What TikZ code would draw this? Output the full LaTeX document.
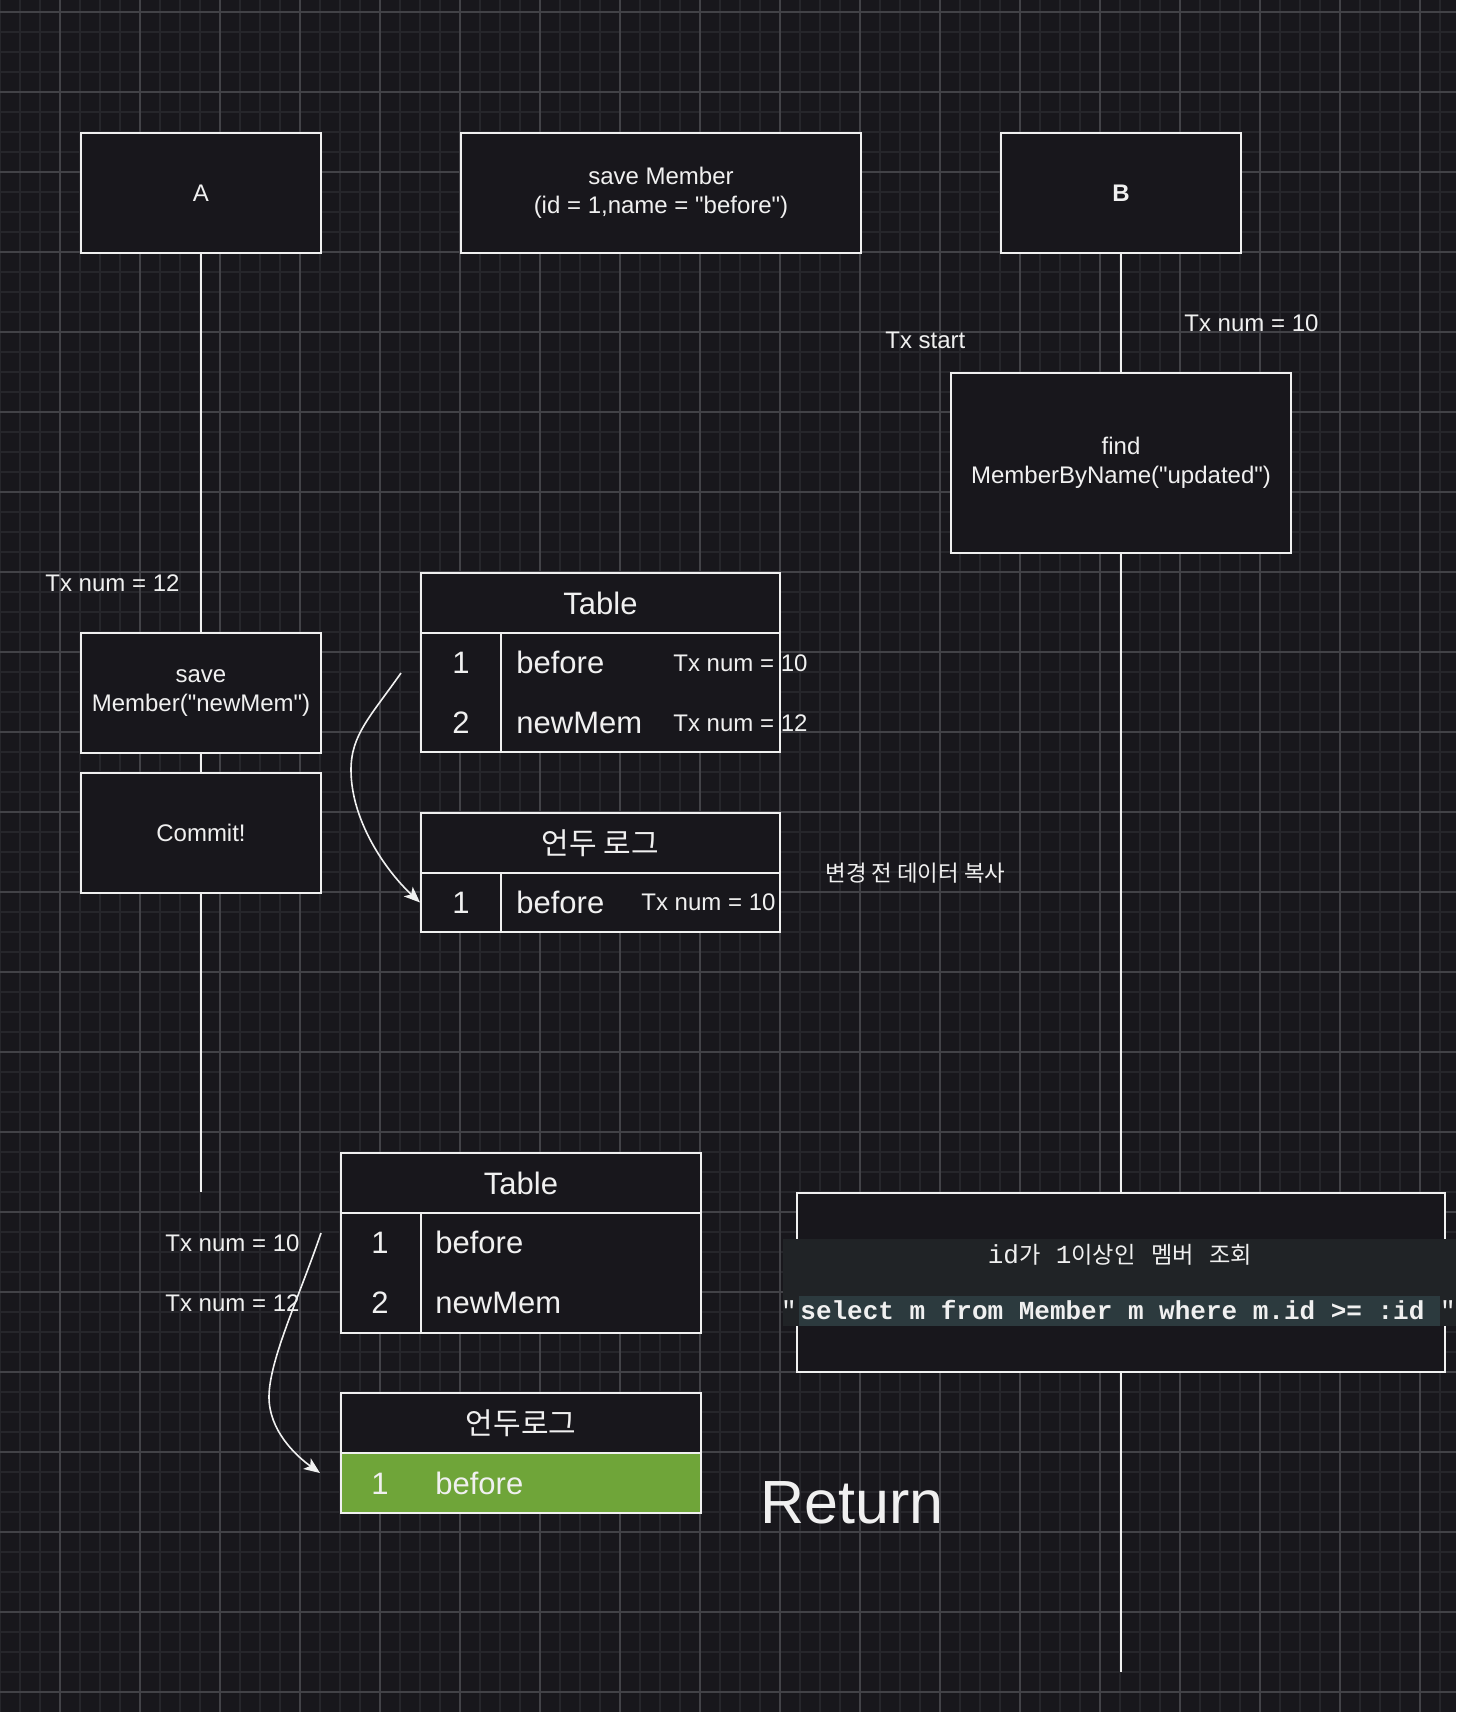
\documentclass[tikz,border=0pt]{standalone}
\usepackage{fontspec}
\setmainfont{Liberation Sans}[Ligatures=TeXOff]
\newfontfamily\krfont{Noto Sans CJK KR}
\newfontfamily\codefont{Liberation Mono}
\usepackage{xcolor}
\usetikzlibrary{arrows.meta}
\definecolor{bgdark}{HTML}{18171C}
\definecolor{gridminor}{HTML}{26262B}
\definecolor{gridmajor}{HTML}{424247}
\definecolor{fgwhite}{HTML}{F0F0F0}
\definecolor{rowgreen}{HTML}{6FA539}
\definecolor{bandgray}{HTML}{202326}
\definecolor{codegray}{HTML}{2C3A3E}
\newcommand{\krtext}[1]{{\krfont\fontsize{11.6}{13}\selectfont #1}}
\newcommand{\dq}{\symbol{34}}

\begin{document}
\begin{tikzpicture}[x=0.5pt, y=-0.5pt,
  every node/.style={text=fgwhite, inner sep=0pt},
  lifebox/.style={draw=fgwhite, line width=1pt, fill=bgdark, align=center, font=\fontsize{12}{14.5}\selectfont},
  cell/.style={draw=fgwhite, line width=1pt, fill=bgdark},
  celltext/.style={font=\fontsize{15.5}{18}\selectfont},
  krhead/.style={font=\krfont\fontsize{15}{17}\selectfont},
  txlabel/.style={font=\fontsize{12}{14}\selectfont, anchor=base west},
  lifeline/.style={draw=fgwhite, line width=1pt},
  copyarrow/.style={draw=fgwhite, line width=0.8pt, -{Stealth[length=8pt,width=6.5pt,inset=2pt]}}]
\useasboundingbox (0,0) rectangle (1456,1712);
% background grid
\fill[bgdark] (0,0) rectangle (1456,1712);
\foreach \gx in {0,20,...,1440} \draw[gridminor, line width=0.6pt] (\gx,0) -- (\gx,1712);
\foreach \gy in {12,32,...,1692} \draw[gridminor, line width=0.6pt] (0,\gy) -- (1456,\gy);
\foreach \gx in {60,140,...,1420} \draw[gridmajor, line width=0.6pt] (\gx,0) -- (\gx,1712);
\foreach \gy in {12,92,...,1692} \draw[gridmajor, line width=0.6pt] (0,\gy) -- (1456,\gy);

% Transaction A
\node[lifebox, minimum width=120pt, minimum height=60pt] (A) at (201,193) {A};
\node[lifebox, minimum width=120pt, minimum height=60pt] (saveNew) at (201,693) {save\\Member(\dq newMem\dq)};
\node[lifebox, minimum width=120pt, minimum height=60pt] (commit) at (201,833) {Commit!};
\coordinate (Aend) at (201,1192);
\draw[lifeline] (A) -- (saveNew);
\draw[lifeline] (saveNew) -- (commit);
\draw[lifeline] (commit) -- (Aend);
\node[txlabel] (txA) at (45,591) {Tx num = 12};

% first member
\node[lifebox, minimum width=200pt, minimum height=60pt] (saveFirst) at (661,193) {save Member\\(id = 1,name = \dq before\dq)};

% Transaction B
\node[lifebox, minimum width=120pt, minimum height=60pt, font=\fontsize{12}{14.5}\selectfont\bfseries] (B) at (1121,193) {B};
\node[lifebox, minimum width=170pt, minimum height=90pt] (find) at (1121,462.5) {find\\MemberByName(\dq updated\dq)};
\node[lifebox, minimum width=324pt, minimum height=89.5pt] (query) at (1121,1282.5) {};
\coordinate (Bend) at (1121,1672);
\draw[lifeline] (B) -- (find);
\draw[lifeline] (find) -- (query);
\draw[lifeline] (query) -- (Bend);
\node[txlabel] (txStart) at (885,348) {Tx start};
\node[txlabel] (txB) at (1184,331) {Tx num = 10};

% query
\node[fill=bandgray, minimum width=336.5pt, minimum height=43.5pt] (band) at (1119.5,1282.5) {};
\node[fill=codegray, minimum width=320.5pt, minimum height=15pt] (codebg) at (1119.5,1311) {};
\node[anchor=base, font=\codefont\fontsize{13}{15}\selectfont] (qtitle) at (1120,1263) {id\krtext{가} 1\krtext{이상인} \krtext{멤버} \krtext{조회}};
\node[anchor=base west, font=\codefont\bfseries\fontsize{13}{15}\selectfont] (code) at (800,1319) {select m from Member m where m.id >= :id};
\node[anchor=base, font=\codefont\fontsize{13}{15}\selectfont] (qopen) at (789,1319) {"};
\node[anchor=base, font=\codefont\fontsize{13}{15}\selectfont] (qclose) at (1448,1319) {"};

% Table during Tx
\node[cell, minimum width=179.5pt, minimum height=30pt] (tblA) at (600.5,603) {};
\node[cell, minimum width=40pt, minimum height=59.5pt] (tblAidx) at (461,692.5) {};
\node[cell, minimum width=139.5pt, minimum height=59.5pt] (tblAbody) at (640.5,692.5) {};
\node[celltext, anchor=base] (tblAtitle) at (600.5,614) {Table};
\node[celltext, anchor=base] (tblA1) at (461,673) {1};
\node[celltext, anchor=base] (tblA2) at (461,733) {2};
\node[celltext, anchor=base west] (tblAbefore) at (516,673) {before};
\node[celltext, anchor=base west] (tblAnew) at (516,733) {newMem};
\node[txlabel] (tblAtx1) at (673,671) {Tx num = 10};
\node[txlabel] (tblAtx2) at (673,731) {Tx num = 12};

% undo log during Tx
\node[cell, minimum width=179.5pt, minimum height=30pt] (tblU) at (600.5,843) {};
\node[cell, minimum width=40pt, minimum height=29.5pt] (tblUidx) at (461,902.5) {};
\node[cell, minimum width=139.5pt, minimum height=29.5pt] (tblUbody) at (640.5,902.5) {};
\node[krhead] (tblUtitle) at (600.5,843) {언두 로그};
\node[celltext, anchor=base] (tblU1) at (461,913) {1};
\node[celltext, anchor=base west] (tblUbefore) at (516,913) {before};
\node[txlabel] (tblUtx) at (641,910) {Tx num = 10};
\node[anchor=west, font=\krfont\fontsize{11.2}{13}\selectfont] (copynote) at (825,873) {변경 전 데이터 복사};
\coordinate (copyStart) at (401,673);
\draw[copyarrow] (copyStart) .. controls (370,717) and (351,735) .. (351,770) .. controls (351,820) and (385,870) .. (tblUidx.west);

% Table after commit
\node[cell, minimum width=180pt, minimum height=30pt] (tblC) at (521,1183) {};
\node[cell, minimum width=40pt, minimum height=60pt] (tblCidx) at (381,1273) {};
\node[cell, minimum width=140pt, minimum height=60pt] (tblCbody) at (561,1273) {};
\node[celltext, anchor=base] (tblCtitle) at (521,1194) {Table};
\node[celltext, anchor=base] (tblC1) at (380,1253) {1};
\node[celltext, anchor=base] (tblC2) at (380,1313) {2};
\node[celltext, anchor=base west] (tblCbefore) at (435,1253) {before};
\node[celltext, anchor=base west] (tblCnew) at (435,1313) {newMem};
\node[txlabel] (tblCtx1) at (165,1251) {Tx num = 10};
\node[txlabel] (tblCtx2) at (165,1311) {Tx num = 12};

% undo log read by B
\node[cell, minimum width=180pt, minimum height=30pt] (tblR) at (521,1423) {};
\node[cell, fill=rowgreen, minimum width=180pt, minimum height=30pt] (tblRrow) at (521,1483) {};
\node[krhead] (tblRtitle) at (521,1423) {언두로그};
\node[celltext, anchor=base] (tblR1) at (380,1494) {1};
\node[celltext, anchor=base west] (tblRbefore) at (435,1494) {before};
\coordinate (readStart) at (321,1233);
\coordinate (readEnd) at (320,1473);
\draw[copyarrow] (readStart) .. controls (300,1295) and (269,1360) .. (269,1397) .. controls (269,1430) and (295,1455) .. (readEnd);

\node[anchor=base west, font=\fontsize{30.5}{36}\selectfont] (ret) at (760,1523) {Return};
\end{tikzpicture}
\end{document}
